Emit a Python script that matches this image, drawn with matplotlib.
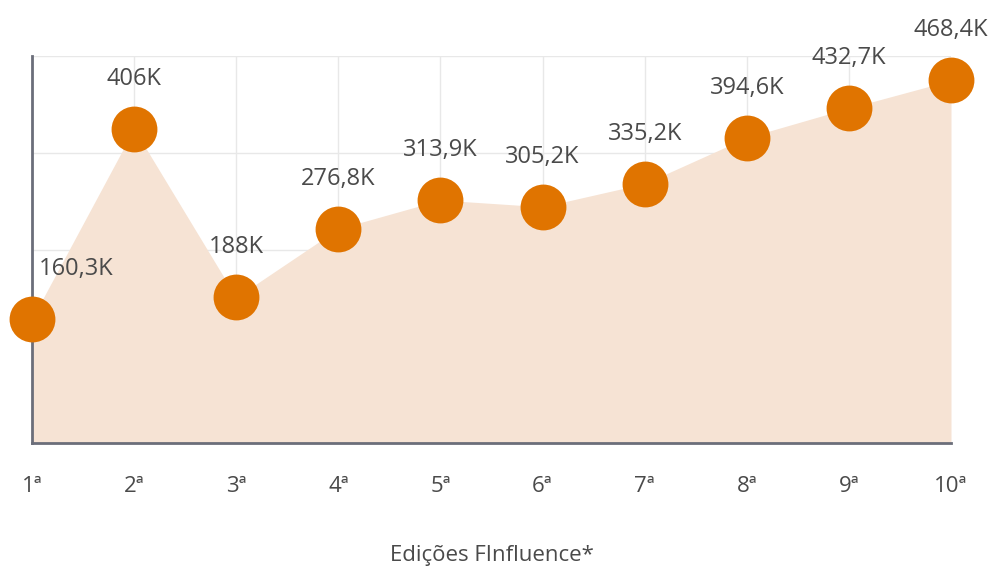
import matplotlib
matplotlib.use("Agg")
import matplotlib.pyplot as plt

categories = ["1ª", "2ª", "3ª", "4ª", "5ª", "6ª", "7ª", "8ª", "9ª", "10ª"]
values = [160.3, 406, 188, 276.8, 313.9, 305.2, 335.2, 394.6, 432.7, 468.4]
labels = ["160,3K", "406K", "188K", "276,8K", "313,9K", "305,2K", "335,2K", "394,6K", "432,7K", "468,4K"]

plt.rcParams['font.family'] = ['Open Sans', 'DejaVu Sans']

fig = plt.figure(figsize=(9.95, 5.67), dpi=100)
ax = fig.add_axes([32/995, 1-443/567, (951-32)/995, (443-56)/567])
x = list(range(len(values)))

ax.fill_between(x, values, 0, color="#F6E3D4", zorder=1, linewidth=0)
ax.plot(x, values, "o", color="#E07400", markersize=33, markeredgewidth=0, zorder=3, clip_on=False)

ax.set_xlim(0, len(values) - 1)
ax.set_ylim(0, 500)
ax.set_yticks([0, 125, 250, 375, 500])
ax.set_yticklabels([])
ax.set_xticks(x)
ax.set_xticklabels(categories, fontsize=16, color="#4a4a4a")
ax.tick_params(axis="both", length=0)
ax.tick_params(axis="x", pad=24)
ax.grid(True, color="#E8E8E8", linewidth=1, zorder=0)
ax.set_axisbelow(True)
for s in ["top", "right"]:
    ax.spines[s].set_visible(False)
for s in ["left", "bottom"]:
    ax.spines[s].set_color("#6B6E7A")
    ax.spines[s].set_linewidth(2)
    ax.spines[s].set_zorder(2)

for i, (v, lab) in enumerate(zip(values, labels)):
    dx = 44 if i == 0 else 0
    ax.annotate(lab, (i, v), xytext=(dx * 0.72, 36), textcoords="offset points",
                ha="center", va="center", fontsize=17, color="#4a4a4a", zorder=4,
                annotation_clip=False)

ax.set_xlabel("Edições FInfluence*", fontsize=16, color="#4a4a4a", labelpad=34)

fig.savefig("out.png", dpi=100)
